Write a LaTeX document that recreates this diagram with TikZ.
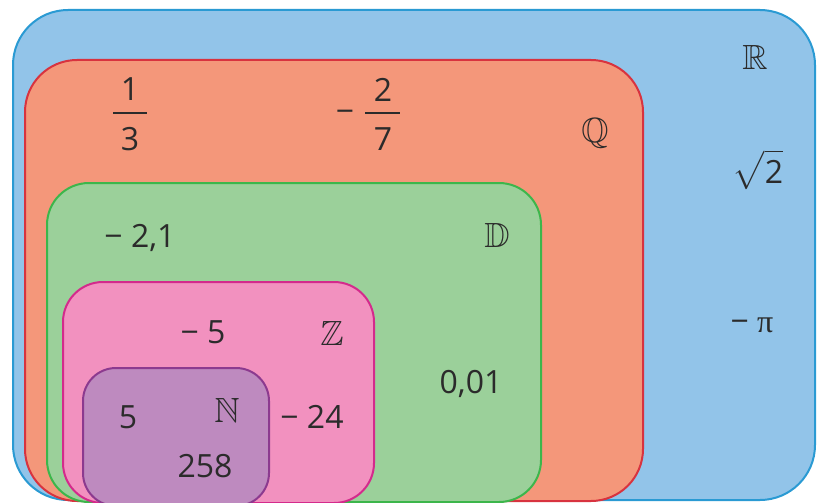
\documentclass[tikz,border=0pt]{standalone}
\usepackage{amsmath,amssymb}
\usepackage{pdfrender}
\usepackage{fontspec}
\setmainfont{Open Sans}
\newfontfamily\greekfont{Liberation Serif}

% set colours: fill and border of each region
\definecolor{realfill}{HTML}{92C4E9}\definecolor{realline}{HTML}{2A9AD3}
\definecolor{ratfill}{HTML}{F4977A}\definecolor{ratline}{HTML}{D8333F}
\definecolor{decfill}{HTML}{9BD09A}\definecolor{decline}{HTML}{3CB64B}
\definecolor{intfill}{HTML}{F291BF}\definecolor{intline}{HTML}{D42A8C}
\definecolor{natfill}{HTML}{BE8ABF}\definecolor{natline}{HTML}{8C3A8F}
\definecolor{ink}{HTML}{2B2B2B}

% blackboard letters, stroked a little to darken the thin outlines
\newcommand{\setletter}[1]{\textpdfrender{TextRenderingMode=FillStroke,LineWidth=0.5pt}{$\mathbb{#1}$}}

\tikzset{
  setbox/.style={line width=2pt},
  num/.style={anchor=base, inner sep=0pt, text=ink,
    font=\fontsize{32}{38}\selectfont},
  setname/.style={anchor=base, inner sep=0pt, text=ink,
    font=\fontsize{35}{40}\selectfont},
  fracbar/.style={draw=ink, line width=1.6pt}
}

\begin{document}
\begin{tikzpicture}[x=1pt, y=-1pt]
  \useasboundingbox (0,0) rectangle (822,503);
  \fill[white] (0,0) rectangle (822,503);

  % nested sets
  \draw[setbox, fill=realfill, draw=realline, rounded corners=55pt] (13,10) rectangle (815,500);
  \draw[setbox, fill=ratfill, draw=ratline, rounded corners=52pt] (25,60) rectangle (643,501);
  \draw[setbox, fill=decfill, draw=decline, rounded corners=42pt] (47,183) rectangle (541,502);
  \draw[setbox, fill=intfill, draw=intline, rounded corners=40pt] (63,282) rectangle (374,503);
  \draw[setbox, fill=natfill, draw=natline, rounded corners=33pt] (83,368) rectangle (269,506);

  % real numbers
  \node[setname] (R) at (755,70) {\setletter{R}};
  \node[num] (sqrt2) at (758,183) {$\sqrt{\text{2}}$};
  \node[num] (mpi) at (752,332) {− {\greekfont π}};

  % rational numbers
  \node[setname] (Q) at (595,142) {\setletter{Q}};
  \node[num] (onenum) at (130,100) {1};
  \draw[fracbar] (113,113) -- (147,113);
  \node[num] (oneden) at (130,150) {3};
  \node[num] (minusfrac) at (345,122.5) {−};
  \node[num] (twonum) at (383,102) {2};
  \draw[fracbar] (365,113) -- (400,113);
  \node[num] (twoden) at (383,150) {7};

  % decimal numbers
  \node[setname] (D) at (497,247) {\setletter{D}};
  \node[num] (m21) at (140,247) {− 2,1};
  \node[num] (c001) at (471,393) {0,01};

  % integers
  \node[setname] (Z) at (332,345) {\setletter{Z}};
  \node[num] (m5) at (203,343) {− 5};
  \node[num] (m24) at (312,428) {− 24};

  % natural numbers
  \node[setname] (N) at (227,422) {\setletter{N}};
  \node[num] (five) at (128,428) {5};
  \node[num] (n258) at (205,477) {258};
\end{tikzpicture}
\end{document}
